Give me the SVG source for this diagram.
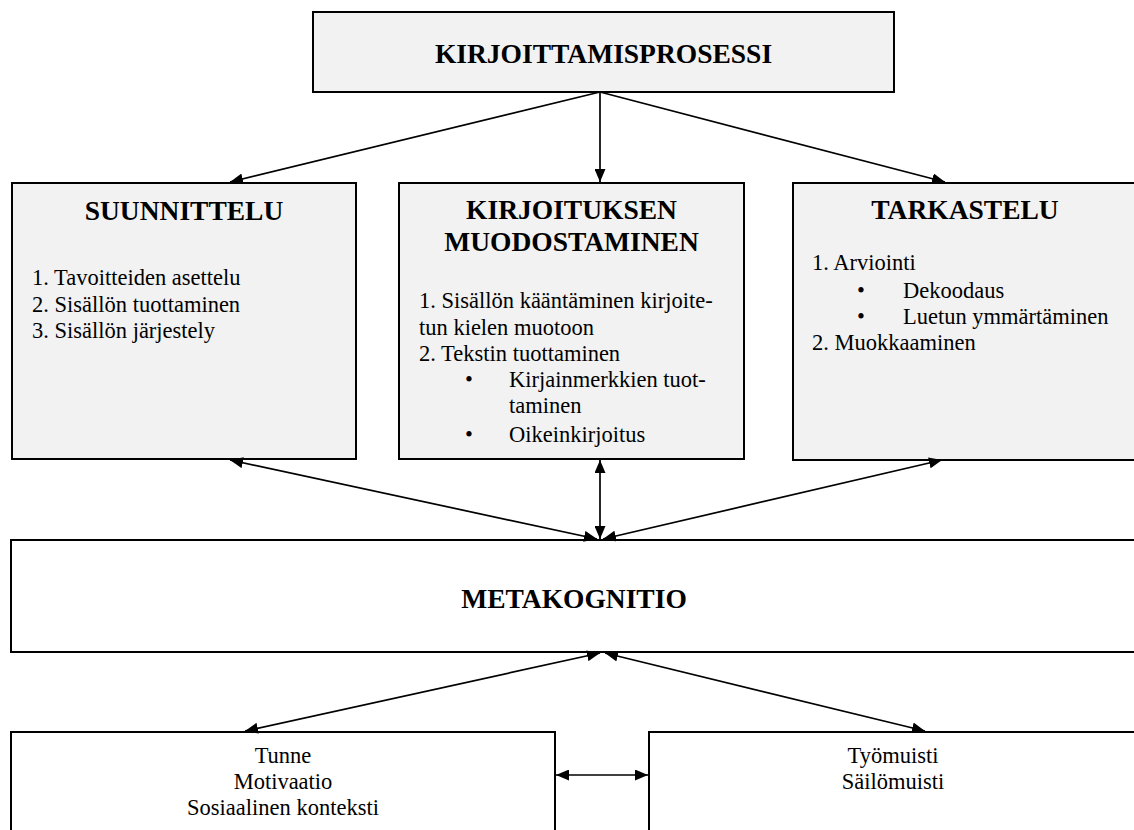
<svg xmlns="http://www.w3.org/2000/svg" width="1134" height="830" viewBox="0 0 1134 830">
  <style>
    .box { stroke: #000; stroke-width: 2; }
    .grey { fill: #f2f2f2; }
    .white { fill: #ffffff; }
    .title { font-family: "Liberation Serif", "Times New Roman", serif; font-weight: bold; font-size: 27.5px; fill: #000; text-anchor: middle; }
    .body { font-family: "Liberation Serif", "Times New Roman", serif; font-size: 22.5px; fill: #000; }
    .mid { text-anchor: middle; }
    .conn { stroke: #000; stroke-width: 1.7; fill: none; }
  </style>
  <defs>
    <marker id="ah" viewBox="0 0 13 11" refX="13" refY="5.5" markerWidth="13" markerHeight="11" markerUnits="userSpaceOnUse" orient="auto-start-reverse">
      <path d="M0,0 L13,5.5 L0,11 Z" fill="#000"/>
    </marker>
  </defs>

  <rect width="1134" height="830" fill="#fff"/>

  <!-- top: writing process -->
  <g id="node-kirjoittamisprosessi">
    <rect class="box grey" x="313" y="12" width="581" height="80"/>
    <text class="title" x="603.5" y="63">KIRJOITTAMISPROSESSI</text>
  </g>

  <!-- planning -->
  <g id="node-suunnittelu">
    <rect class="box grey" x="12" y="183" width="344" height="276"/>
    <text class="title" x="184" y="220">SUUNNITTELU</text>
    <text class="body" x="32" y="285">1. Tavoitteiden asettelu</text>
    <text class="body" x="32" y="312">2. Sisällön tuottaminen</text>
    <text class="body" x="32" y="338">3. Sisällön järjestely</text>
  </g>

  <!-- text formation -->
  <g id="node-muodostaminen">
    <rect class="box grey" x="399" y="183" width="345" height="276"/>
    <text class="title" x="571.5" y="219">KIRJOITUKSEN</text>
    <text class="title" x="571.5" y="251">MUODOSTAMINEN</text>
    <text class="body" x="419" y="308">1. Sisällön kääntäminen kirjoite-</text>
    <text class="body" x="419" y="335">tun kielen muotoon</text>
    <text class="body" x="419" y="361">2. Tekstin tuottaminen</text>
    <text class="body mid" x="469" y="387">•</text>
    <text class="body" x="509" y="387">Kirjainmerkkien tuot-</text>
    <text class="body" x="509" y="413">taminen</text>
    <text class="body mid" x="469" y="442">•</text>
    <text class="body" x="509" y="442">Oikeinkirjoitus</text>
  </g>

  <!-- reviewing -->
  <g id="node-tarkastelu">
    <rect class="box grey" x="793" y="183" width="345" height="277"/>
    <text class="title" x="965" y="219">TARKASTELU</text>
    <text class="body" x="812" y="270">1. Arviointi</text>
    <text class="body mid" x="861" y="298">•</text>
    <text class="body" x="903" y="298">Dekoodaus</text>
    <text class="body mid" x="861" y="324">•</text>
    <text class="body" x="903" y="324">Luetun ymmärtäminen</text>
    <text class="body" x="812" y="350">2. Muokkaaminen</text>
  </g>

  <!-- metacognition -->
  <g id="node-metakognitio">
    <rect class="box white" x="11" y="540" width="1130" height="112"/>
    <text class="title" x="574" y="608">METAKOGNITIO</text>
  </g>

  <!-- emotion / motivation / context -->
  <g id="node-tunne">
    <rect class="box white" x="11" y="732" width="544" height="110"/>
    <text class="body mid" x="283" y="763">Tunne</text>
    <text class="body mid" x="283" y="789">Motivaatio</text>
    <text class="body mid" x="283" y="815">Sosiaalinen konteksti</text>
  </g>

  <!-- memory -->
  <g id="node-muisti">
    <rect class="box white" x="649" y="732" width="492" height="110"/>
    <text class="body mid" x="893" y="763">Työmuisti</text>
    <text class="body mid" x="893" y="789">Säilömuisti</text>
  </g>

  <!-- connectors -->
  <g id="connectors">
    <line class="conn" x1="600" y1="92" x2="230" y2="182" marker-end="url(#ah)"/>
    <line class="conn" x1="600" y1="92" x2="600" y2="182" marker-end="url(#ah)"/>
    <line class="conn" x1="600" y1="92" x2="945" y2="182" marker-end="url(#ah)"/>

    <line class="conn" x1="230" y1="460" x2="597" y2="539" marker-start="url(#ah)" marker-end="url(#ah)"/>
    <line class="conn" x1="600" y1="460" x2="600" y2="539" marker-start="url(#ah)" marker-end="url(#ah)"/>
    <line class="conn" x1="942" y1="460" x2="603" y2="539" marker-start="url(#ah)" marker-end="url(#ah)"/>

    <line class="conn" x1="600" y1="653" x2="245" y2="731" marker-start="url(#ah)" marker-end="url(#ah)"/>
    <line class="conn" x1="605" y1="653" x2="925" y2="731" marker-start="url(#ah)" marker-end="url(#ah)"/>

    <line class="conn" x1="556" y1="775" x2="648" y2="775" marker-start="url(#ah)" marker-end="url(#ah)"/>
  </g>
</svg>
